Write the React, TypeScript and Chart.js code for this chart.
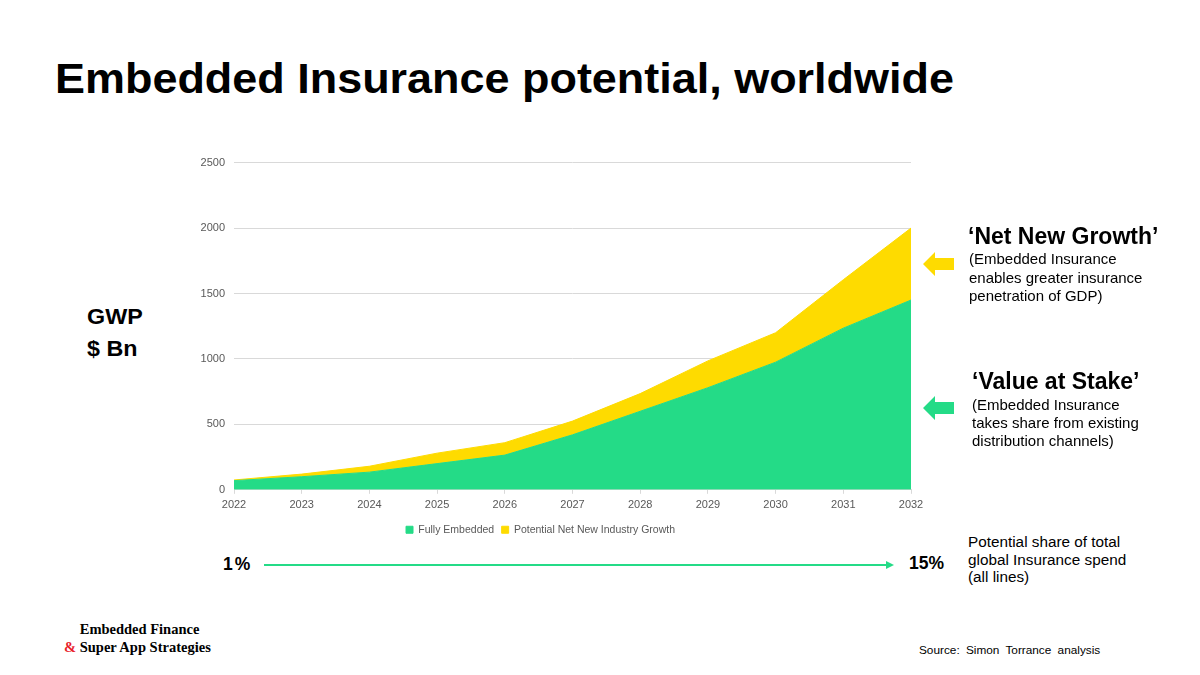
import React, { useEffect, useRef } from "react";
import { Chart, registerables } from "chart.js";

Chart.register(...registerables);

// Gross written premium, $ Bn
const years = ["2022", "2023", "2024", "2025", "2026", "2027", "2028", "2029", "2030", "2031", "2032"];
const fullyEmbedded = [70, 100, 135, 200, 265, 420, 600, 780, 975, 1235, 1450];
const netNewGrowth = [5, 20, 45, 80, 95, 105, 135, 205, 225, 370, 550];
const seriesNames = ["Fully Embedded", "Potential Net New Industry Growth"];
const yTicks = [0, 500, 1000, 1500, 2000, 2500];

const GREEN = "#24DB87";
const YELLOW = "#FEDB00";
const SANS = "'Liberation Sans', Arial, Helvetica, sans-serif";

function AreaChart() {
  const ref = useRef<HTMLCanvasElement | null>(null);
  useEffect(() => {
    if (!ref.current) return;
    const chart = new Chart(ref.current, {
      type: "line",
      data: {
        labels: years,
        datasets: [
          {
            label: seriesNames[0],
            data: fullyEmbedded,
            backgroundColor: GREEN,
            borderColor: GREEN,
            borderWidth: 1,
            pointRadius: 0,
            fill: "origin",
            tension: 0,
          },
          {
            label: seriesNames[1],
            data: netNewGrowth,
            backgroundColor: YELLOW,
            borderColor: YELLOW,
            borderWidth: 1,
            pointRadius: 0,
            fill: "-1",
            tension: 0,
          },
        ],
      },
      options: {
        responsive: false,
        animation: false,
        layout: { padding: { top: 6, right: 29, left: 0, bottom: 0 } },
        plugins: {
          tooltip: { enabled: false },
          legend: {
            position: "bottom",
            labels: {
              boxWidth: 7,
              boxHeight: 7,
              padding: 7.5,
              color: "#595959",
              font: { family: SANS, size: 10.5 },
            },
          },
        },
        scales: {
          x: {
            offset: false,
            grid: { drawOnChartArea: false, drawTicks: true, tickLength: 4, color: "#d9d9d9" },
            border: { display: true, color: "#d9d9d9" },
            ticks: { color: "#595959", font: { family: SANS, size: 11 }, maxRotation: 0, padding: 5 },
          },
          y: {
            stacked: true,
            min: 0,
            max: 2500,
            afterBuildTicks: (axis: any) => {
              axis.ticks = yTicks.map((v) => ({ value: v }));
            },
            afterFit: (axis: any) => {
              axis.width = 64;
            },
            grid: { color: "#d9d9d9", drawTicks: false },
            border: { display: false },
            ticks: {
              color: "#595959",
              font: { family: SANS, size: 11 },
              padding: 9,
              callback: (v: any) => String(v),
            },
          },
        },
      },
    });
    return () => chart.destroy();
  }, []);
  return (
    <canvas
      ref={ref}
      width={770}
      height={398}
      style={{ position: "absolute", left: 170, top: 147, width: 770, height: 398 }}
    />
  );
}

function Arrow({ x, y, color }: { x: number; y: number; color: string }) {
  // left-pointing block arrow, tip at (x, y)
  return (
    <svg style={{ position: "absolute", left: x, top: y - 12 }} width={32} height={24}>
      <polygon points="0,12 12,0 12,6 31,6 31,18 12,18 12,24" fill={color} />
    </svg>
  );
}

const abs = (left: number, top: number, extra: React.CSSProperties = {}): React.CSSProperties => ({
  position: "absolute",
  left,
  top,
  margin: 0,
  whiteSpace: "nowrap",
  fontFamily: SANS,
  color: "#000",
  ...extra,
});

export default function App() {
  return (
    <div
      style={{
        position: "fixed",
        left: 0,
        top: 0,
        width: 1200,
        height: 675,
        background: "#fff",
        overflow: "hidden",
      }}
    >
      <div
        style={abs(55, 55, {
          fontSize: 42,
          fontWeight: 700,
          transform: "scaleX(1.07)",
          transformOrigin: "left top",
        })}
      >
        Embedded Insurance potential, worldwide
      </div>

      <div
        style={abs(87, 301, {
          fontSize: 22,
          fontWeight: 700,
          lineHeight: "32px",
          transform: "scaleX(1.06)",
          transformOrigin: "left top",
        })}
      >
        GWP
        <br />$ Bn
      </div>

      <AreaChart />

      <Arrow x={923} y={264} color={YELLOW} />
      <div style={abs(968, 223, { fontSize: 23, fontWeight: 700 })}>‘Net New Growth’</div>
      <div style={abs(969, 250, { fontSize: 15, lineHeight: "18.5px" })}>
        (Embedded Insurance
        <br />
        enables greater insurance
        <br />
        penetration of GDP)
      </div>

      <Arrow x={923} y={408} color={GREEN} />
      <div style={abs(972, 368, { fontSize: 23, fontWeight: 700 })}>‘Value at Stake’</div>
      <div style={abs(972, 396, { fontSize: 15, lineHeight: "18px" })}>
        (Embedded Insurance
        <br />
        takes share from existing
        <br />
        distribution channels)
      </div>

      <div style={abs(223, 554, { fontSize: 17.5, fontWeight: 700, letterSpacing: 2 })}>1%</div>
      <svg style={{ position: "absolute", left: 262, top: 558 }} width={636} height={14}>
        <line x1={2} y1={7} x2={624} y2={7} stroke={GREEN} strokeWidth={2} />
        <polygon points="632,7 624,3 624,11" fill={GREEN} />
      </svg>
      <div style={abs(909, 553, { fontSize: 17.5, fontWeight: 700 })}>15%</div>

      <div style={abs(968, 533, { fontSize: 15.3, lineHeight: "17.5px" })}>
        Potential share of total
        <br />
        global Insurance spend
        <br />
        (all lines)
      </div>

      <div
        style={abs(64, 620, {
          fontFamily: "'Liberation Serif', 'DejaVu Serif', serif",
          fontSize: 14.5,
          fontWeight: 700,
          lineHeight: "18px",
        })}
      >
        <span style={{ visibility: "hidden" }}>&amp; </span>Embedded Finance
        <br />
        <span style={{ color: "#e8202a" }}>&amp;</span> Super App Strategies
      </div>

      <div style={abs(919, 643, { fontSize: 11.8, wordSpacing: 3 })}>Source: Simon Torrance analysis</div>
    </div>
  );
}
